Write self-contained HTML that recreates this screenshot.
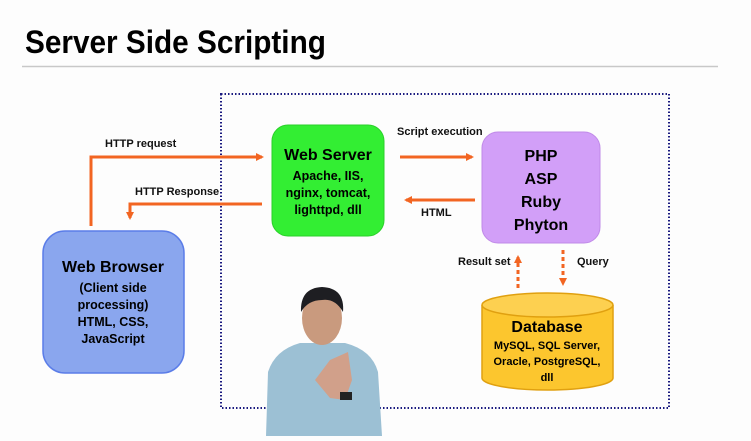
<!DOCTYPE html>
<html><head><style>
body{margin:0;width:751px;height:436px;background:#fdfdfd;overflow:hidden;font-family:"Liberation Sans",sans-serif}
</style></head><body>
<svg width="751" height="436" xmlns="http://www.w3.org/2000/svg" font-family="Liberation Sans, sans-serif" font-weight="bold">
<text x="25" y="53" font-size="32" transform="translate(25 0) scale(0.93 1) translate(-25 0)" fill="#000">Server Side Scripting</text>
<line x1="22" y1="66.5" x2="718" y2="66.5" stroke="#c8c8c8" stroke-width="1.5"/>
<rect x="221" y="94" width="448" height="314" fill="none" stroke="#1a1a80" stroke-width="2" stroke-dasharray="1.5 2"/>
<defs><marker id="a" markerWidth="8" markerHeight="8" refX="6" refY="4" orient="auto" markerUnits="userSpaceOnUse"><path d="M0,0 L8,4 L0,8 z" fill="#f26522"/></marker></defs>
<g stroke="#f26522" stroke-width="3" fill="none">
<polyline points="91,226 91,157 262,157" marker-end="url(#a)"/>
<polyline points="262,204 130,204 130,218" marker-end="url(#a)"/>
<line x1="400" y1="157" x2="472" y2="157" marker-end="url(#a)"/>
<line x1="475" y1="200" x2="406" y2="200" marker-end="url(#a)"/>
<line x1="518" y1="288" x2="518" y2="257" stroke-dasharray="4 3" marker-end="url(#a)"/>
<line x1="563" y1="250" x2="563" y2="284" stroke-dasharray="4 3" marker-end="url(#a)"/>
</g>
<g font-size="11" fill="#111">
<text x="105" y="147">HTTP request</text>
<text x="135" y="195">HTTP Response</text>
<text x="397" y="135">Script execution</text>
<text x="421" y="216">HTML</text>
<text x="458" y="265">Result set</text>
<text x="577" y="265">Query</text>
</g>
<rect x="272" y="125" width="112" height="111" rx="16" fill="#33ee33" stroke="#2ad02a"/>
<g text-anchor="middle" fill="#000">
<text x="328" y="160" font-size="16">Web Server</text>
<text x="328" y="180" font-size="12.5">Apache, IIS,</text>
<text x="328" y="197" font-size="12.5">nginx, tomcat,</text>
<text x="328" y="214" font-size="12.5">lighttpd, dll</text>
</g>
<rect x="482" y="132" width="118" height="111" rx="16" fill="#d29ff8" stroke="#c08ae8"/>
<g text-anchor="middle" fill="#000" font-size="16">
<text x="541" y="161">PHP</text><text x="541" y="184">ASP</text><text x="541" y="207">Ruby</text><text x="541" y="230">Phyton</text>
</g>
<rect x="43" y="231" width="141" height="142" rx="22" fill="#8aa6ee" stroke="#5b7de8" stroke-width="1.5"/>
<g text-anchor="middle" fill="#000">
<text x="113" y="272" font-size="16">Web Browser</text>
<text x="113" y="292" font-size="12.5">(Client side</text>
<text x="113" y="309" font-size="12.5">processing)</text>
<text x="113" y="326" font-size="12.5">HTML, CSS,</text>
<text x="113" y="343" font-size="12.5">JavaScript</text>
</g>
<path d="M482,305 L482,378 A65.5,12 0 0 0 613,378 L613,305" fill="#fcc62e" stroke="#e0a010" stroke-width="1.5"/>
<ellipse cx="547.5" cy="305" rx="65.5" ry="12" fill="#fdd050" stroke="#e0a010" stroke-width="1.5"/>
<g text-anchor="middle" fill="#000">
<text x="547" y="332" font-size="16">Database</text>
<text x="547" y="349" font-size="11">MySQL, SQL Server,</text>
<text x="547" y="365" font-size="11">Oracle, PostgreSQL,</text>
<text x="547" y="381" font-size="11">dll</text>
</g>
<!-- presenter -->
<path d="M266,436 L268,372 Q275,350 300,343 L345,343 Q372,350 378,372 L382,436 Z" fill="#9cc0d4"/>
<ellipse cx="322" cy="318" rx="20" ry="27" fill="#c99a7e"/>
<path d="M301,312 Q300,288 322,287 Q345,288 343,312 Q335,298 322,300 Q308,300 301,312 Z" fill="#1e1e22"/>
<path d="M315,380 L330,360 L348,352 L352,380 L345,400 L330,398 Z" fill="#d1a08a"/>
<rect x="340" y="392" width="12" height="8" fill="#222"/>
</svg>
</body></html>
